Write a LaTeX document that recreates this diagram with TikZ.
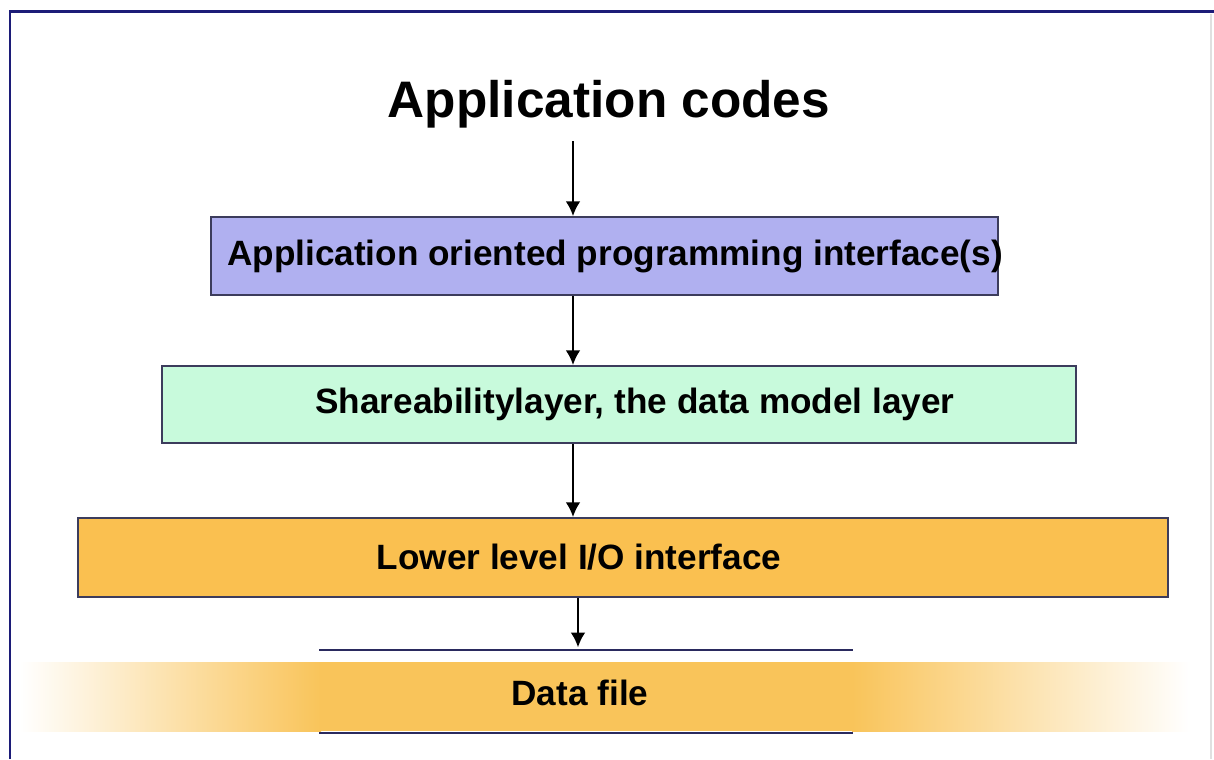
\documentclass[tikz,border=0pt]{standalone}
\usepackage{fontspec}
\setmainfont{Liberation Sans}
\usetikzlibrary{arrows.meta}

\definecolor{framenavy}{HTML}{1C1C78}
\definecolor{edgegray}{HTML}{3C3C5C}
\definecolor{apifill}{HTML}{B0B0F0}
\definecolor{sharefill}{HTML}{C8FADC}
\definecolor{iofill}{HTML}{FAC050}
\definecolor{filefill}{HTML}{F9C45A}
\definecolor{ruleblue}{HTML}{2A2A5E}

\tikzset{
  layerbox/.style={draw=edgegray, line width=0.55pt, inner sep=0pt},
  layertext/.style={font=\fontsize{10pt}{12pt}\selectfont\bfseries, inner sep=0pt},
  flow/.style={-{Latex[length=4.2pt,width=4.2pt]}, line width=0.55pt, black},
}

\begin{document}
\begin{tikzpicture}[x=0.01cm, y=-0.01cm]
  \useasboundingbox (0,0) rectangle (1214,759);

  % page frame (top and left edges in navy, faint right edge)
  \draw[framenavy, line width=0.85pt] (10,759) -- (10,11) -- (1214,11);
  \draw[black!12, line width=0.4pt] (1211,14) -- (1211,759);

  % heading
  \node[font=\fontsize{14.6pt}{17pt}\selectfont\bfseries, anchor=base, inner sep=0pt]
    (title) at (609,117) {Application codes};

  % layer boxes
  \node[layerbox, fill=apifill, minimum width=7.87cm, minimum height=0.78cm]
    (api) at (604.5,256) {};
  \node[layertext] (apilbl) at (615,256) {Application oriented programming interface(s)};

  \node[layerbox, fill=sharefill, minimum width=9.14cm, minimum height=0.77cm]
    (share) at (619,404.5) {};
  \node[layertext] (sharelbl) at (635,404.5) {Shareabilitylayer, the data model layer};

  \node[layerbox, fill=iofill, minimum width=10.90cm, minimum height=0.79cm]
    (io) at (623,557.5) {};
  \node[layertext] (iolbl) at (579,557.5) {Lower level I/O interface};

  % data file band, fading out to both sides
  \shade[left color=white, right color=filefill] (20,662) rectangle (321,731);
  \fill[filefill] (320,662) rectangle (853,731);
  \shade[left color=filefill, right color=white] (852,662) rectangle (1190,731);
  \node[minimum width=5.32cm, minimum height=0.81cm, inner sep=0pt]
    (datafile) at (586,691.5) {};
  \node[layertext] (filelbl) at (580,693) {Data file};
  \draw[ruleblue, line width=0.6pt] (datafile.north west) -- (datafile.north east);
  \draw[ruleblue, line width=0.6pt] (datafile.south west) -- (datafile.south east);

  % calls going down the stack
  \coordinate (spine) at (573,0);
  \coordinate (lowspine) at (578,0);
  \draw[flow] ([yshift=-0.13cm]title.south -| spine) -- (api.north -| spine);
  \draw[flow] (api.south -| spine) -- (share.north -| spine);
  \draw[flow] (share.south -| spine) -- (io.north -| spine);
  \draw[flow] (io.south -| lowspine) -- ([yshift=0.03cm]datafile.north -| lowspine);
\end{tikzpicture}
\end{document}
